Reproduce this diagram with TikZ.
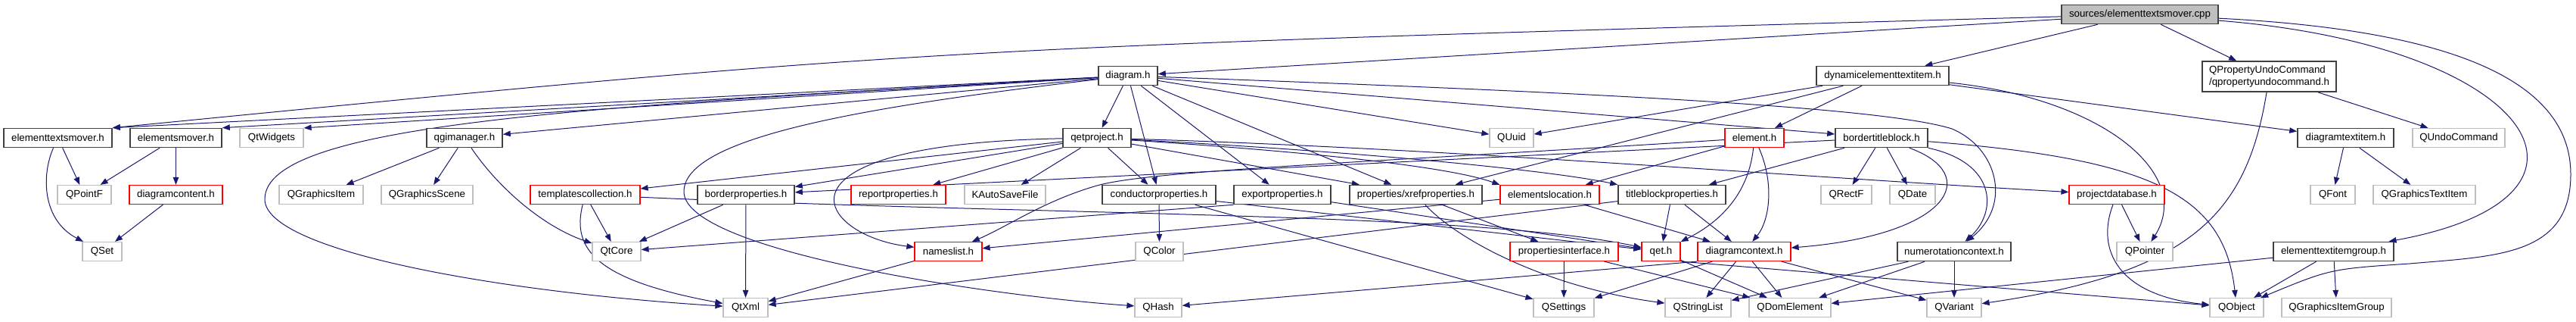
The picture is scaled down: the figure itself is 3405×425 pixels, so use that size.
\documentclass[tikz,border=0pt]{standalone}
\usepackage{fontspec}
\setmainfont{Liberation Sans}
\usetikzlibrary{arrows.meta}
\pgfdeclarelayer{bg}
\pgfsetlayers{bg,main}
\definecolor{edgec}{HTML}{191970}
\definecolor{grayb}{HTML}{BFBFBF}
\definecolor{redb}{HTML}{FF0000}
\definecolor{blkb}{HTML}{404040}
\definecolor{topfill}{HTML}{BFBFBF}
\begin{document}
\begin{tikzpicture}[x=1pt,y=-1pt,
  nb/.style={rectangle, fill=white, minimum height=25pt, inner sep=0pt, font=\fontsize{13.3}{15.5}\selectfont, text=black},
  kbox/.style={nb, draw=blkb, line width=1.6pt},
  rbox/.style={nb, draw=redb, line width=1.2pt},
  gbox/.style={nb, draw=grayb, line width=1.2pt},
  e/.style={draw=edgec, line width=1pt, -{Triangle[length=10pt,width=7.5pt]}}]
\useasboundingbox (0,0) rectangle (3405,425);
% row 1-2
\node[kbox, fill=topfill, minimum width=207pt] (S) at (2828.5,19) {sources/elementtextsmover.cpp};
\node[kbox, minimum width=78pt] (diagram) at (1491,100) {diagram.h};
\node[kbox, minimum width=175pt] (dyn) at (2488.5,100) {dynamicelementtextitem.h};
\node[kbox, minimum width=177pt, minimum height=40pt, align=left] (qpuc) at (2999.5,101) {QPropertyUndoCommand\\/qpropertyundocommand.h};
% row 3
\node[kbox, minimum width=143pt] (etm) at (76.5,182) {elementtextsmover.h};
\node[kbox, minimum width=121pt] (em) at (232.5,182) {elementsmover.h};
\node[gbox, minimum width=84pt] (qtw) at (359,182) {QtWidgets};
\node[kbox, minimum width=100pt] (qgim) at (614,182) {qgimanager.h};
\node[kbox, minimum width=90pt] (qetp) at (1450,182) {qetproject.h};
\node[gbox, minimum width=58pt] (quuid) at (1998,182) {QUuid};
\node[rbox, minimum width=78pt] (elem) at (2319,182) {element.h};
\node[kbox, minimum width=122pt] (btb) at (2487,182) {bordertitleblock.h};
\node[kbox, minimum width=127pt] (dti) at (3100.5,182) {diagramtextitem.h};
\node[gbox, minimum width=122pt] (qundo) at (3250,182) {QUndoCommand};
% row 4
\node[gbox, minimum width=71pt] (qpointf) at (111.5,257) {QPointF};
\node[rbox, minimum width=123pt] (dcont) at (232.5,257) {diagramcontent.h};
\node[gbox, minimum width=111pt] (qgi) at (424.5,257) {QGraphicsItem};
\node[gbox, minimum width=121pt] (qgs) at (564.5,257) {QGraphicsScene};
\node[rbox, minimum width=145pt] (tcol) at (773.5,257) {templatescollection.h};
\node[kbox, minimum width=128pt] (bprop) at (986,257) {borderproperties.h};
\node[rbox, minimum width=125pt] (rprop) at (1187.5,257) {reportproperties.h};
\node[gbox, minimum width=107pt] (kasf) at (1328.5,257) {KAutoSaveFile};
\node[kbox, minimum width=150pt] (cprop) at (1532,257) {conductorproperties.h};
\node[kbox, minimum width=128pt] (eprop) at (1695,257) {exportproperties.h};
\node[kbox, minimum width=175pt] (xref) at (1871.5,257) {properties/xrefproperties.h};
\node[rbox, minimum width=131pt] (eloc) at (2048.5,257) {elementslocation.h};
\node[kbox, minimum width=142pt] (tbp) at (2210,257) {titleblockproperties.h};
\node[gbox, minimum width=67pt] (qrectf) at (2440.5,257) {QRectF};
\node[gbox, minimum width=60pt] (qdate) at (2528,257) {QDate};
\node[rbox, minimum width=126pt] (pdb) at (2798,257) {projectdatabase.h};
\node[gbox, minimum width=59pt] (qfont) at (3083.5,257) {QFont};
\node[gbox, minimum width=135pt] (qgti) at (3204.5,257) {QGraphicsTextItem};
% row 5
\node[gbox, minimum width=52pt] (qset) at (135,332) {QSet};
\node[gbox, minimum width=64pt] (qtcore) at (815,332) {QtCore};
\node[rbox, minimum width=89pt] (nl) at (1253.5,332) {nameslist.h};
\node[gbox, minimum width=63pt] (qcolor) at (1532.5,332) {QColor};
\node[rbox, minimum width=143pt] (pif) at (2067.5,332) {propertiesinterface.h};
\node[rbox, minimum width=51pt] (qet) at (2195.5,332) {qet.h};
\node[rbox, minimum width=123pt] (dctx) at (2305.5,332) {diagramcontext.h};
\node[kbox, minimum width=150pt] (nctx) at (2583,332) {numerotationcontext.h};
\node[gbox, minimum width=74pt] (qpointer) at (2835,332) {QPointer};
\node[kbox, minimum width=159pt] (etig) at (3084.5,332) {elementtextitemgroup.h};
% row 6
\node[gbox, minimum width=59pt] (qtxml) at (985.5,406) {QtXml};
\node[gbox, minimum width=62pt] (qhash) at (1531,406) {QHash};
\node[gbox, minimum width=80pt] (qsettings) at (2067,406) {QSettings};
\node[gbox, minimum width=87pt] (qsl) at (2244.5,406) {QStringList};
\node[gbox, minimum width=108pt] (qdom) at (2366,406) {QDomElement};
\node[gbox, minimum width=72pt] (qvariant) at (2583,406) {QVariant};
\node[gbox, minimum width=71pt] (qobject) at (2956.5,406) {QObject};
\node[gbox, minimum width=145pt] (qgig) at (3088.5,406) {QGraphicsItemGroup};
\begin{pgfonlayer}{bg}
% edges from source
\draw[e] (S) .. controls (1218,64) .. (etm.north east);
\draw[e] (S) -- (diagram);
\draw[e] (S) -- (dyn);
\draw[e] (S) -- (qpuc);
\draw[e] (S) .. controls (3350,60) and (3480,260) .. (etig);
\draw[e] (S) .. controls (3250,40) and (3398,110) .. (3398,230) .. controls (3398,338) and (3300,338) .. (3185,348) .. controls (3080,355) .. (qobject);
% diagram.h
\draw[e] (diagram) -- (etm.north east);
\draw[e] (diagram) -- (em.north east);
\draw[e] (diagram) -- (qtw.north east);
\draw[e] (diagram) -- (qgim);
\draw[e] (diagram) .. controls (800,140) and (350,160) .. (350,263) .. controls (350,330) and (650,385) .. (qtxml);
\draw[e] (diagram) .. controls (1150,140) and (904,180) .. (904,253) .. controls (904,330) and (1300,390) .. (qhash);
\draw[e] (diagram) -- (qetp);
\draw[e] (diagram) -- (cprop);
\draw[e] (diagram) -- (eprop);
\draw[e] (diagram) -- (xref);
\draw[e] (diagram) -- (quuid);
\draw[e] (diagram) -- (btb);
\draw[e] (diagram) .. controls (2200,125) and (2500,145) .. (2580,170) .. controls (2640,195) and (2660,270) .. (nctx);
% dynamicelementtextitem.h
\draw[e] (dyn) -- (elem);
\draw[e] (dyn) -- (quuid);
\draw[e] (dyn) -- (xref);
\draw[e] (dyn) -- (dti);
\draw[e] (dyn) .. controls (2780,130) and (2900,230) .. (qpointer);
% qpropertyundocommand
\draw[e] (qpuc) -- (qundo);
\draw[e] (qpuc) .. controls (2970,280) and (2900,360) .. (qvariant);
% movers
\draw[e] (etm) -- (qpointf);
\draw[e] (etm) .. controls (55,230) and (55,290) .. (qset);
\draw[e] (em) -- (qpointf);
\draw[e] (em) -- (dcont);
\draw[e] (dcont) -- (qset);
% qgimanager
\draw[e] (qgim) -- (qgi);
\draw[e] (qgim) -- (qgs);
\draw[e] (qgim) .. controls (660,250) and (720,300) .. (qtcore);
% templatescollection
\draw[e] (tcol) -- (qtcore);
\draw[e] (tcol) .. controls (755,330) and (790,370) .. (qtxml);
\draw[e] (tcol) .. controls (1400,285) and (1950,280) .. (qet);
% borderproperties
\draw[e] (bprop) -- (qtcore);
\draw[e] (bprop) -- (qtxml);
% qetproject
\draw[e] (qetp) -- (tcol);
\draw[e] (qetp) -- (bprop);
\draw[e] (qetp) -- (rprop);
\draw[e] (qetp) -- (kasf);
\draw[e] (qetp) .. controls (1000,190) and (1080,310) .. (nl);
\draw[e] (qetp) -- (cprop);
\draw[e] (qetp) -- (xref);
\draw[e] (qetp) .. controls (1800,205) and (1930,225) .. (eloc.north west);
\draw[e] (qetp) .. controls (1800,200) and (2050,225) .. (tbp.north west);
\draw[e] (qetp) .. controls (1900,195) and (2400,235) .. (pdb);
% conductorproperties / exportproperties
\draw[e] (cprop) -- (qcolor);
\draw[e] (cprop) -- (qsettings);
\draw[e] (cprop) -- (qet);
\draw[e] (eprop.south west) -- (qtcore);
\draw[e] (eprop) -- (qet);
% xrefproperties
\draw[e] (xref) -- (pif);
\draw[e] (xref) .. controls (1930,320) and (2050,380) .. (qsl);
% elementslocation / titleblockproperties
\draw[e] (eloc) -- (nl);
\draw[e] (eloc) -- (dctx);
\draw[e] (tbp) -- (qtxml);
\draw[e] (tbp) -- (qet);
\draw[e] (tbp) -- (dctx);
% element.h
\draw[e] (elem) .. controls (2312,250) and (2280,290) .. (qet);
\draw[e] (elem) .. controls (2345,240) and (2340,290) .. (dctx);
\draw[e] (elem) -- (eloc);
\draw[e] (elem) .. controls (1800,215) and (1520,225) .. (1450,245) .. controls (1380,265) and (1330,300) .. (nl);
% bordertitleblock.h
\draw[e] (btb) -- (qrectf);
\draw[e] (btb) -- (qdate);
\draw[e] (btb) .. controls (2620,230) and (2580,310) .. (dctx);
\draw[e] (btb) .. controls (2640,215) and (2640,280) .. (nctx);
\draw[e] (btb) .. controls (2850,210) and (2940,260) .. (qobject);
\draw[e] (btb) -- (tbp);
\draw[e] (btb) -- (bprop);
% projectdatabase
\draw[e] (pdb) -- (qpointer);
\draw[e] (pdb) .. controls (2770,330) and (2800,390) .. (qobject);
% numerotationcontext
\draw[e] (nctx) -- (qvariant);
\draw[e] (nctx) -- (qsl);
\draw[e] (nctx) -- (qdom);
% diagramcontext
\draw[e] (dctx) -- (qsl);
\draw[e] (dctx) -- (qdom);
\draw[e] (dctx) -- (qvariant);
\draw[e] (dctx) -- (qsettings);
\draw[e] (dctx.south west) -- (qhash);
% propertiesinterface, qet, nameslist
\draw[e] (pif) -- (qsettings);
\draw[e] (pif) -- (qdom);
\draw[e] (qet) -- (qdom);
\draw[e] (qet.south east) -- (qobject);
\draw[e] (nl) -- (qtxml);
% elementtextitemgroup, diagramtextitem
\draw[e] (etig) -- (qobject);
\draw[e] (etig) -- (qgig);
\draw[e] (etig) -- (qdom);
\draw[e] (dti) -- (qfont);
\draw[e] (dti) -- (qgti);
\end{pgfonlayer}
\end{tikzpicture}
\end{document}
